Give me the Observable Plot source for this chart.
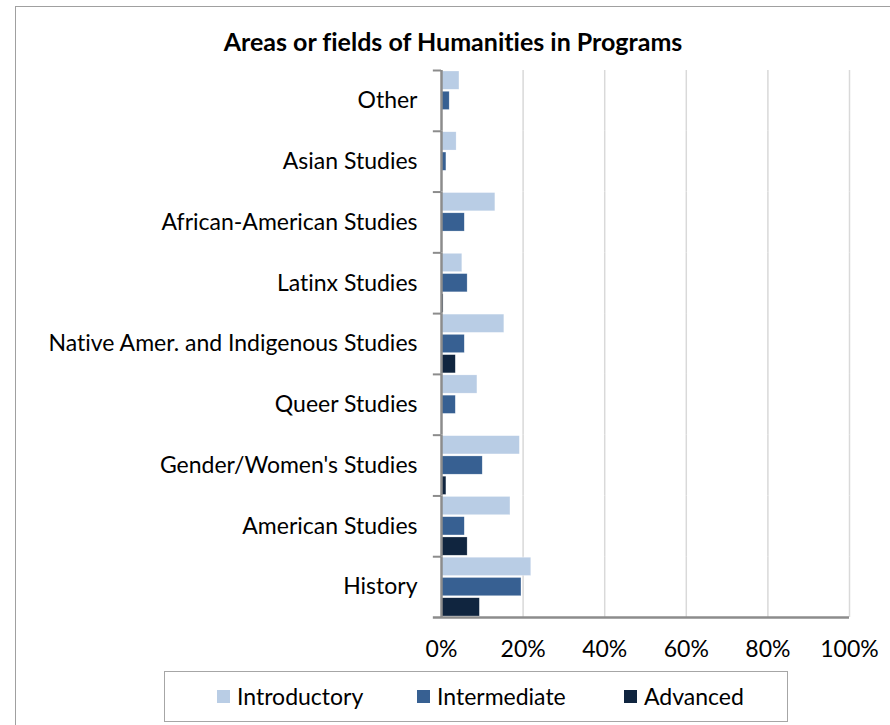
<!DOCTYPE html>
<html>
<head>
<meta charset="utf-8">
<script src="https://cdn.jsdelivr.net/npm/d3@7"></script>
<script src="https://cdn.jsdelivr.net/npm/@observablehq/plot@0.6"></script>
<style>
  html, body { margin: 0; padding: 0; background: #fff; }
  body { width: 890px; height: 725px; position: relative; overflow: hidden; font-family: Lato, "Open Sans", sans-serif; font-variant-ligatures: none; }
  #frame { position: absolute; left: 15px; top: 6px; width: 900px; height: 760px; border: 1.5px solid #a0a0a0; box-sizing: border-box; }
  #title { position: absolute; left: 0; width: 906px; top: 26px; text-align: center; font-weight: bold; font-size: 25px; color: #000; }
  #chart { position: absolute; left: 0; top: 0; }
  #legend { position: absolute; left: 164px; top: 671px; width: 624px; height: 51px; border: 1.5px solid #a6a6a6; box-sizing: border-box; font-size: 23px; color: #000; }
  .item { position: absolute; top: 10px; display: flex; align-items: center; }
  .sw { width: 13px; height: 13px; margin-right: 7px; }
</style>
</head>
<body>
<div id="frame"></div>
<div id="title">Areas or fields of Humanities in Programs</div>
<div id="chart"></div>
<div id="legend"></div>
<script>
const categories = ["Other", "Asian Studies", "African-American Studies", "Latinx Studies", "Native Amer. and Indigenous Studies", "Queer Studies", "Gender/Women's Studies", "American Studies", "History"];
const series = ["Introductory", "Intermediate", "Advanced"];
const introductory = [4.4, 3.7, 13.2, 5.1, 15.4, 8.8, 19.2, 16.9, 22.0];
const intermediate = [2.0, 1.2, 5.7, 6.4, 5.7, 3.5, 10.1, 5.7, 19.6];
const advanced = [0, 0, 0, 0.5, 3.5, 0, 1.2, 6.4, 9.4];
const xTicks = [0, 20, 40, 60, 80, 100];
const colors = ["#b9cde5", "#376092", "#10253f"];

const valuesBySeries = [introductory, intermediate, advanced];
const data = [];
categories.forEach((c, i) => series.forEach((s, j) => data.push({category: c, series: s, value: valuesBySeries[j][i]})));

const W = 890, H = 665, mT = 70, mB = 48, mL = 441, mR = 41;
const pIn = 0.1, pOut = 0.05;
const facetH = (H - mT - mB) / categories.length;
const step = facetH / (series.length - pIn + 2 * pOut);
const half = step * (1 - pIn) / 2 + step * pOut;

const chart = Plot.plot({
  width: W, height: H,
  marginTop: mT, marginBottom: mB, marginLeft: mL, marginRight: mR,
  style: {fontFamily: "Lato, sans-serif", fontSize: "23px", color: "#000", background: "transparent", overflow: "visible", fontVariantLigatures: "none"},
  x: {domain: [0, 100], ticks: xTicks, tickFormat: d => d + "%", tickSize: 0, tickPadding: 23, label: null},
  y: {domain: series, axis: null, paddingInner: pIn, paddingOuter: pOut, round: false},
  fy: {domain: categories, padding: 0, round: false, label: null, tickSize: 0, tickPadding: 24, axis: "left"},
  marks: [
    Plot.ruleX(xTicks.slice(1), {stroke: "#d9d9d9", strokeWidth: 1.5}),
    Plot.barX(data, {x: "value", y: "series", fy: "category", fill: d => colors[series.indexOf(d.series)], stroke: "#ffffff", strokeOpacity: 0.5, strokeWidth: 0.5}),
    Plot.ruleX([0], {stroke: "#8c8c8c", strokeWidth: 2.5}),
    Plot.ruleY(categories, {fy: d => d, y: () => series[0], x1: -2, x2: 0, dy: -half, stroke: "#8c8c8c", strokeWidth: 2}),
    Plot.ruleY([categories[categories.length - 1]], {fy: d => d, y: () => series[series.length - 1], x1: -2, x2: 100, dy: half, stroke: "#8c8c8c", strokeWidth: 2.5})
  ]
});
document.getElementById("chart").appendChild(chart);

const legend = document.getElementById("legend");
const lefts = [52, 252, 459];
series.forEach((s, j) => {
  const it = document.createElement("div");
  it.className = "item";
  it.style.left = lefts[j] + "px";
  it.innerHTML = `<span class="sw" style="background:${colors[j]}"></span><span>${s}</span>`;
  legend.appendChild(it);
});
</script>
</body>
</html>
